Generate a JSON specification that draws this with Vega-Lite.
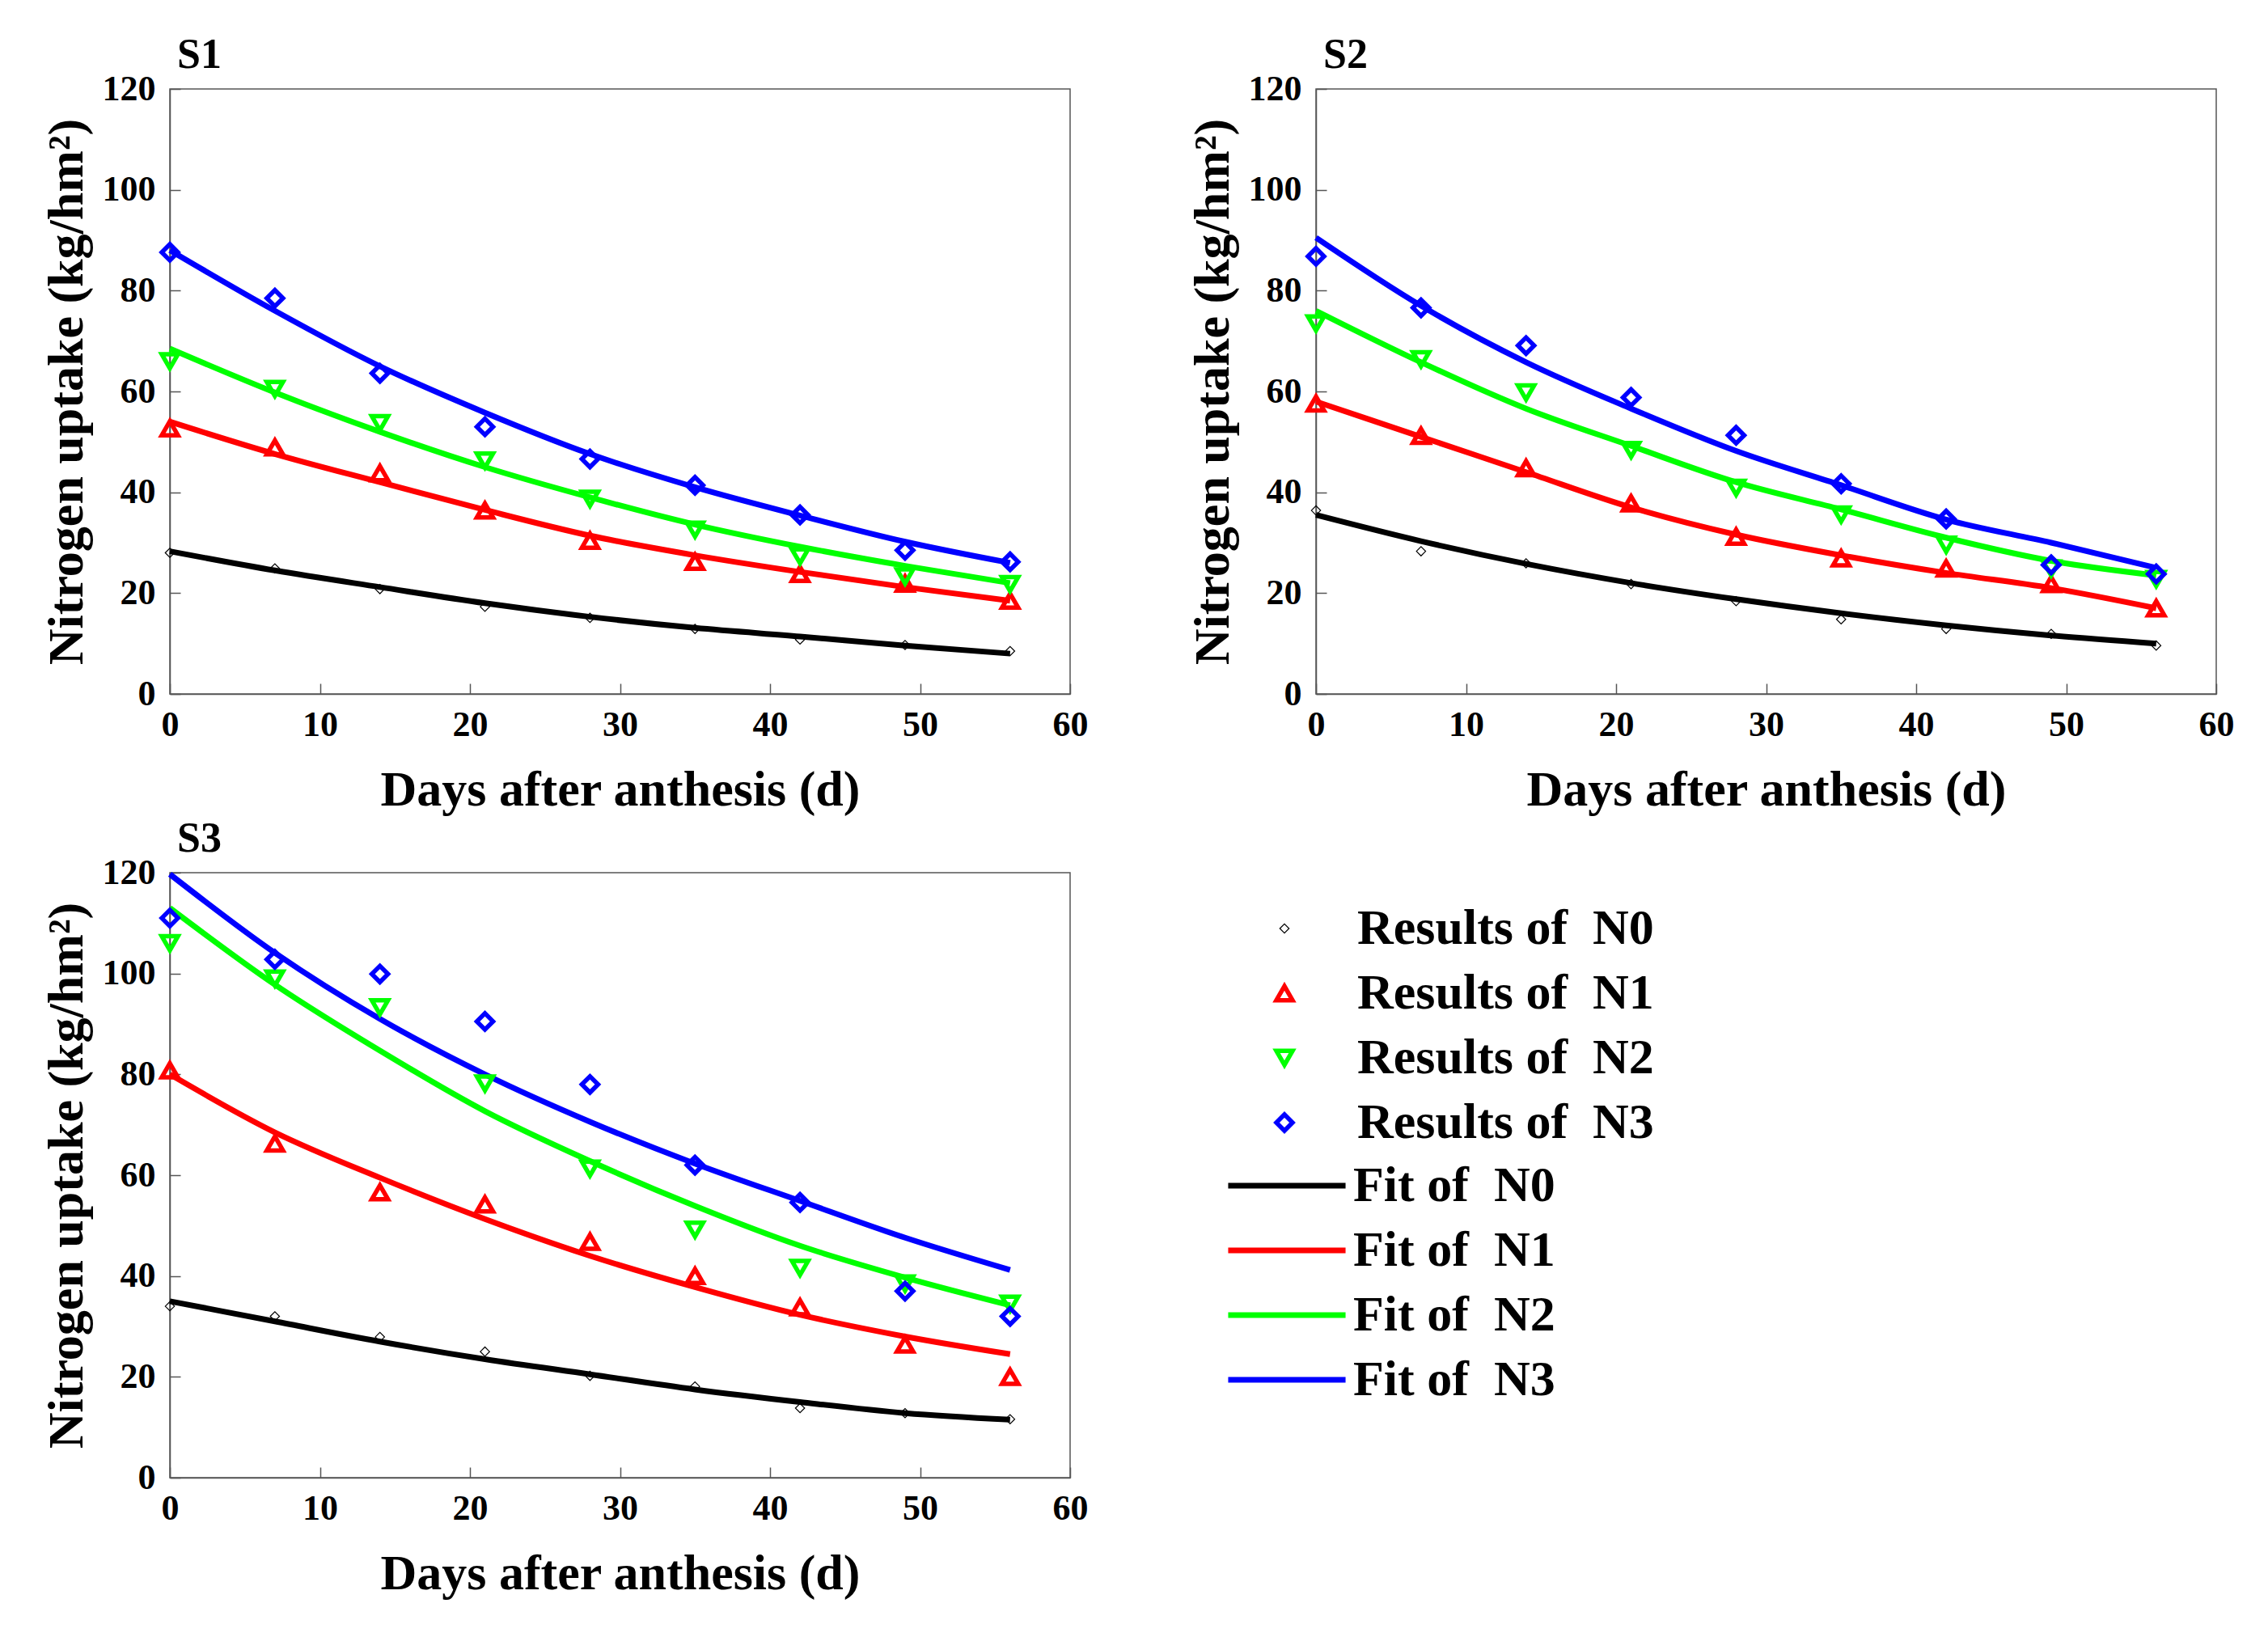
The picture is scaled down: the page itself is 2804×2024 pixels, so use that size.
{
  "$schema": "https://vega.github.io/schema/vega-lite/v6.json",
  "padding": {"left": 50, "top": 41, "right": 5, "bottom": 5},
  "background": "white",
  "data": {"values": [
    {"panel":"S1","series":"Results of N0","day":0,"value":28.0},{"panel":"S1","series":"Results of N0","day":7,"value":24.9},{"panel":"S1","series":"Results of N0","day":14,"value":20.8},{"panel":"S1","series":"Results of N0","day":21,"value":17.3},{"panel":"S1","series":"Results of N0","day":28,"value":15.1},{"panel":"S1","series":"Results of N0","day":35,"value":12.9},{"panel":"S1","series":"Results of N0","day":42,"value":10.8},{"panel":"S1","series":"Results of N0","day":49,"value":9.7},{"panel":"S1","series":"Results of N0","day":56,"value":8.5},
    {"panel":"S1","series":"Results of N1","day":0,"value":52.7},{"panel":"S1","series":"Results of N1","day":7,"value":48.9},{"panel":"S1","series":"Results of N1","day":14,"value":43.8},{"panel":"S1","series":"Results of N1","day":21,"value":36.4},{"panel":"S1","series":"Results of N1","day":28,"value":30.4},{"panel":"S1","series":"Results of N1","day":35,"value":26.2},{"panel":"S1","series":"Results of N1","day":42,"value":23.8},{"panel":"S1","series":"Results of N1","day":49,"value":21.9},{"panel":"S1","series":"Results of N1","day":56,"value":18.5},
    {"panel":"S1","series":"Results of N2","day":0,"value":66.0},{"panel":"S1","series":"Results of N2","day":7,"value":60.5},{"panel":"S1","series":"Results of N2","day":14,"value":53.7},{"panel":"S1","series":"Results of N2","day":21,"value":46.3},{"panel":"S1","series":"Results of N2","day":28,"value":38.7},{"panel":"S1","series":"Results of N2","day":35,"value":32.6},{"panel":"S1","series":"Results of N2","day":42,"value":27.3},{"panel":"S1","series":"Results of N2","day":49,"value":23.3},{"panel":"S1","series":"Results of N2","day":56,"value":21.8},
    {"panel":"S1","series":"Results of N3","day":0,"value":87.6},{"panel":"S1","series":"Results of N3","day":7,"value":78.5},{"panel":"S1","series":"Results of N3","day":14,"value":63.6},{"panel":"S1","series":"Results of N3","day":21,"value":53.0},{"panel":"S1","series":"Results of N3","day":28,"value":46.6},{"panel":"S1","series":"Results of N3","day":35,"value":41.4},{"panel":"S1","series":"Results of N3","day":42,"value":35.5},{"panel":"S1","series":"Results of N3","day":49,"value":28.5},{"panel":"S1","series":"Results of N3","day":56,"value":26.2},
    {"panel":"S1","series":"Fit of N0","day":0,"value":28.3},{"panel":"S1","series":"Fit of N0","day":7,"value":24.5},{"panel":"S1","series":"Fit of N0","day":14,"value":21.2},{"panel":"S1","series":"Fit of N0","day":21,"value":18.0},{"panel":"S1","series":"Fit of N0","day":28,"value":15.3},{"panel":"S1","series":"Fit of N0","day":35,"value":13.1},{"panel":"S1","series":"Fit of N0","day":42,"value":11.4},{"panel":"S1","series":"Fit of N0","day":49,"value":9.6},{"panel":"S1","series":"Fit of N0","day":56,"value":8.0},
    {"panel":"S1","series":"Fit of N1","day":0,"value":54.0},{"panel":"S1","series":"Fit of N1","day":7,"value":47.6},{"panel":"S1","series":"Fit of N1","day":14,"value":42.0},{"panel":"S1","series":"Fit of N1","day":21,"value":36.5},{"panel":"S1","series":"Fit of N1","day":28,"value":31.4},{"panel":"S1","series":"Fit of N1","day":35,"value":27.5},{"panel":"S1","series":"Fit of N1","day":42,"value":24.2},{"panel":"S1","series":"Fit of N1","day":49,"value":21.2},{"panel":"S1","series":"Fit of N1","day":56,"value":18.5},
    {"panel":"S1","series":"Fit of N2","day":0,"value":68.5},{"panel":"S1","series":"Fit of N2","day":7,"value":59.8},{"panel":"S1","series":"Fit of N2","day":14,"value":52.0},{"panel":"S1","series":"Fit of N2","day":21,"value":45.0},{"panel":"S1","series":"Fit of N2","day":28,"value":39.0},{"panel":"S1","series":"Fit of N2","day":35,"value":33.6},{"panel":"S1","series":"Fit of N2","day":42,"value":29.2},{"panel":"S1","series":"Fit of N2","day":49,"value":25.4},{"panel":"S1","series":"Fit of N2","day":56,"value":22.0},
    {"panel":"S1","series":"Fit of N3","day":0,"value":88.0},{"panel":"S1","series":"Fit of N3","day":7,"value":76.0},{"panel":"S1","series":"Fit of N3","day":14,"value":65.0},{"panel":"S1","series":"Fit of N3","day":21,"value":55.8},{"panel":"S1","series":"Fit of N3","day":28,"value":47.6},{"panel":"S1","series":"Fit of N3","day":35,"value":41.0},{"panel":"S1","series":"Fit of N3","day":42,"value":35.4},{"panel":"S1","series":"Fit of N3","day":49,"value":30.2},{"panel":"S1","series":"Fit of N3","day":56,"value":26.0},
    {"panel":"S2","series":"Results of N0","day":0,"value":36.4},{"panel":"S2","series":"Results of N0","day":7,"value":28.3},{"panel":"S2","series":"Results of N0","day":14,"value":25.9},{"panel":"S2","series":"Results of N0","day":21,"value":21.8},{"panel":"S2","series":"Results of N0","day":28,"value":18.4},{"panel":"S2","series":"Results of N0","day":35,"value":14.8},{"panel":"S2","series":"Results of N0","day":42,"value":12.9},{"panel":"S2","series":"Results of N0","day":49,"value":11.9},{"panel":"S2","series":"Results of N0","day":56,"value":9.6},
    {"panel":"S2","series":"Results of N1","day":0,"value":57.6},{"panel":"S2","series":"Results of N1","day":7,"value":51.2},{"panel":"S2","series":"Results of N1","day":14,"value":44.8},{"panel":"S2","series":"Results of N1","day":21,"value":37.8},{"panel":"S2","series":"Results of N1","day":28,"value":31.2},{"panel":"S2","series":"Results of N1","day":35,"value":26.9},{"panel":"S2","series":"Results of N1","day":42,"value":24.9},{"panel":"S2","series":"Results of N1","day":49,"value":21.8},{"panel":"S2","series":"Results of N1","day":56,"value":17.0},
    {"panel":"S2","series":"Results of N2","day":0,"value":73.5},{"panel":"S2","series":"Results of N2","day":7,"value":66.4},{"panel":"S2","series":"Results of N2","day":14,"value":59.8},{"panel":"S2","series":"Results of N2","day":21,"value":48.4},{"panel":"S2","series":"Results of N2","day":28,"value":40.9},{"panel":"S2","series":"Results of N2","day":35,"value":35.6},{"panel":"S2","series":"Results of N2","day":42,"value":29.6},{"panel":"S2","series":"Results of N2","day":49,"value":24.9},{"panel":"S2","series":"Results of N2","day":56,"value":22.8},
    {"panel":"S2","series":"Results of N3","day":0,"value":86.8},{"panel":"S2","series":"Results of N3","day":7,"value":76.6},{"panel":"S2","series":"Results of N3","day":14,"value":69.1},{"panel":"S2","series":"Results of N3","day":21,"value":58.8},{"panel":"S2","series":"Results of N3","day":28,"value":51.3},{"panel":"S2","series":"Results of N3","day":35,"value":41.7},{"panel":"S2","series":"Results of N3","day":42,"value":34.7},{"panel":"S2","series":"Results of N3","day":49,"value":25.6},{"panel":"S2","series":"Results of N3","day":56,"value":23.8},
    {"panel":"S2","series":"Fit of N0","day":0,"value":35.5},{"panel":"S2","series":"Fit of N0","day":7,"value":30.3},{"panel":"S2","series":"Fit of N0","day":14,"value":25.8},{"panel":"S2","series":"Fit of N0","day":21,"value":22.0},{"panel":"S2","series":"Fit of N0","day":28,"value":18.8},{"panel":"S2","series":"Fit of N0","day":35,"value":16.0},{"panel":"S2","series":"Fit of N0","day":42,"value":13.6},{"panel":"S2","series":"Fit of N0","day":49,"value":11.6},{"panel":"S2","series":"Fit of N0","day":56,"value":10.0},
    {"panel":"S2","series":"Fit of N1","day":0,"value":58.0},{"panel":"S2","series":"Fit of N1","day":7,"value":51.0},{"panel":"S2","series":"Fit of N1","day":14,"value":44.0},{"panel":"S2","series":"Fit of N1","day":21,"value":37.0},{"panel":"S2","series":"Fit of N1","day":28,"value":31.6},{"panel":"S2","series":"Fit of N1","day":35,"value":27.5},{"panel":"S2","series":"Fit of N1","day":42,"value":24.0},{"panel":"S2","series":"Fit of N1","day":49,"value":21.0},{"panel":"S2","series":"Fit of N1","day":56,"value":17.0},
    {"panel":"S2","series":"Fit of N2","day":0,"value":76.0},{"panel":"S2","series":"Fit of N2","day":7,"value":65.8},{"panel":"S2","series":"Fit of N2","day":14,"value":56.6},{"panel":"S2","series":"Fit of N2","day":21,"value":49.2},{"panel":"S2","series":"Fit of N2","day":28,"value":42.0},{"panel":"S2","series":"Fit of N2","day":35,"value":36.6},{"panel":"S2","series":"Fit of N2","day":42,"value":31.0},{"panel":"S2","series":"Fit of N2","day":49,"value":26.4},{"panel":"S2","series":"Fit of N2","day":56,"value":23.5},
    {"panel":"S2","series":"Fit of N3","day":0,"value":90.5},{"panel":"S2","series":"Fit of N3","day":7,"value":77.0},{"panel":"S2","series":"Fit of N3","day":14,"value":65.8},{"panel":"S2","series":"Fit of N3","day":21,"value":56.6},{"panel":"S2","series":"Fit of N3","day":28,"value":48.2},{"panel":"S2","series":"Fit of N3","day":35,"value":41.4},{"panel":"S2","series":"Fit of N3","day":42,"value":34.6},{"panel":"S2","series":"Fit of N3","day":49,"value":30.0},{"panel":"S2","series":"Fit of N3","day":56,"value":25.0},
    {"panel":"S3","series":"Results of N0","day":0,"value":34.0},{"panel":"S3","series":"Results of N0","day":7,"value":32.0},{"panel":"S3","series":"Results of N0","day":14,"value":27.9},{"panel":"S3","series":"Results of N0","day":21,"value":25.0},{"panel":"S3","series":"Results of N0","day":28,"value":20.2},{"panel":"S3","series":"Results of N0","day":35,"value":18.1},{"panel":"S3","series":"Results of N0","day":42,"value":13.8},{"panel":"S3","series":"Results of N0","day":49,"value":12.8},{"panel":"S3","series":"Results of N0","day":56,"value":11.6},
    {"panel":"S3","series":"Results of N1","day":0,"value":80.8},{"panel":"S3","series":"Results of N1","day":7,"value":66.3},{"panel":"S3","series":"Results of N1","day":14,"value":56.6},{"panel":"S3","series":"Results of N1","day":21,"value":54.2},{"panel":"S3","series":"Results of N1","day":28,"value":46.8},{"panel":"S3","series":"Results of N1","day":35,"value":40.0},{"panel":"S3","series":"Results of N1","day":42,"value":33.8},{"panel":"S3","series":"Results of N1","day":49,"value":26.4},{"panel":"S3","series":"Results of N1","day":56,"value":20.0},
    {"panel":"S3","series":"Results of N2","day":0,"value":106.0},{"panel":"S3","series":"Results of N2","day":7,"value":99.0},{"panel":"S3","series":"Results of N2","day":14,"value":93.3},{"panel":"S3","series":"Results of N2","day":21,"value":78.2},{"panel":"S3","series":"Results of N2","day":28,"value":61.3},{"panel":"S3","series":"Results of N2","day":35,"value":49.2},{"panel":"S3","series":"Results of N2","day":42,"value":41.6},{"panel":"S3","series":"Results of N2","day":49,"value":38.5},{"panel":"S3","series":"Results of N2","day":56,"value":34.5},
    {"panel":"S3","series":"Results of N3","day":0,"value":111.0},{"panel":"S3","series":"Results of N3","day":7,"value":102.8},{"panel":"S3","series":"Results of N3","day":14,"value":99.9},{"panel":"S3","series":"Results of N3","day":21,"value":90.5},{"panel":"S3","series":"Results of N3","day":28,"value":78.0},{"panel":"S3","series":"Results of N3","day":35,"value":62.0},{"panel":"S3","series":"Results of N3","day":42,"value":54.6},{"panel":"S3","series":"Results of N3","day":49,"value":37.0},{"panel":"S3","series":"Results of N3","day":56,"value":32.0},
    {"panel":"S3","series":"Fit of N0","day":0,"value":35.0},{"panel":"S3","series":"Fit of N0","day":7,"value":31.0},{"panel":"S3","series":"Fit of N0","day":14,"value":27.0},{"panel":"S3","series":"Fit of N0","day":21,"value":23.5},{"panel":"S3","series":"Fit of N0","day":28,"value":20.5},{"panel":"S3","series":"Fit of N0","day":35,"value":17.5},{"panel":"S3","series":"Fit of N0","day":42,"value":15.0},{"panel":"S3","series":"Fit of N0","day":49,"value":12.8},{"panel":"S3","series":"Fit of N0","day":56,"value":11.5},
    {"panel":"S3","series":"Fit of N1","day":0,"value":80.0},{"panel":"S3","series":"Fit of N1","day":7,"value":68.5},{"panel":"S3","series":"Fit of N1","day":14,"value":59.5},{"panel":"S3","series":"Fit of N1","day":21,"value":51.3},{"panel":"S3","series":"Fit of N1","day":28,"value":44.0},{"panel":"S3","series":"Fit of N1","day":35,"value":37.8},{"panel":"S3","series":"Fit of N1","day":42,"value":32.3},{"panel":"S3","series":"Fit of N1","day":49,"value":28.0},{"panel":"S3","series":"Fit of N1","day":56,"value":24.5},
    {"panel":"S3","series":"Fit of N2","day":0,"value":113.0},{"panel":"S3","series":"Fit of N2","day":7,"value":97.8},{"panel":"S3","series":"Fit of N2","day":14,"value":84.7},{"panel":"S3","series":"Fit of N2","day":21,"value":72.7},{"panel":"S3","series":"Fit of N2","day":28,"value":62.8},{"panel":"S3","series":"Fit of N2","day":35,"value":53.9},{"panel":"S3","series":"Fit of N2","day":42,"value":46.0},{"panel":"S3","series":"Fit of N2","day":49,"value":39.7},{"panel":"S3","series":"Fit of N2","day":56,"value":34.2},
    {"panel":"S3","series":"Fit of N3","day":0,"value":119.7},{"panel":"S3","series":"Fit of N3","day":7,"value":104.1},{"panel":"S3","series":"Fit of N3","day":14,"value":91.0},{"panel":"S3","series":"Fit of N3","day":21,"value":80.0},{"panel":"S3","series":"Fit of N3","day":28,"value":70.6},{"panel":"S3","series":"Fit of N3","day":35,"value":62.3},{"panel":"S3","series":"Fit of N3","day":42,"value":54.9},{"panel":"S3","series":"Fit of N3","day":49,"value":47.6},{"panel":"S3","series":"Fit of N3","day":56,"value":41.2}
  ]},
  "vconcat": [
    {
      "hconcat": [
        {
          "title": "S1", "width": 1113, "height": 748,
          "transform": [{"filter": "datum.panel === 'S1'"}],
          "encoding": {
            "x": {"field": "day", "type": "quantitative", "scale": {"domain": [0, 60], "nice": false}, "axis": {"values": [0,10,20,30,40,50,60], "title": "Days after anthesis (d)"}},
            "y": {"field": "value", "type": "quantitative", "scale": {"domain": [0, 120], "nice": false}, "axis": {"values": [0,20,40,60,80,100,120], "title": "Nitrogen uptake (kg/hm²)"}}
          },
          "layer": [
            {"transform": [{"filter": "indexof(datum.series, 'Fit') === 0"}],
             "mark": {"type": "line", "strokeWidth": 7, "interpolate": "monotone"},
             "encoding": {"stroke": {"field": "series", "type": "nominal", "scale": {"domain": ["Fit of N0","Fit of N1","Fit of N2","Fit of N3"], "range": ["#000000","#ff0000","#00ff00","#0000ff"]},
               "legend": {"title": null, "orient": "none", "legendX": 1350, "legendY": 1325, "symbolType": "M-6,0H6", "symbolSize": 585, "symbolStrokeWidth": 7, "labelOffset": 51, "rowPadding": 18, "labelExpr": "replace(datum.label, ' N', '\u00a0 N')"}}}},
            {"transform": [{"filter": "indexof(datum.series, 'Results') === 0"}],
             "mark": {"type": "point", "filled": false, "opacity": 1},
             "encoding": {
               "color": {"field": "series", "type": "nominal", "scale": {"domain": ["Results of N0","Results of N1","Results of N2","Results of N3"], "range": ["#000000","#ff0000","#00ff00","#0000ff"]},
                 "legend": {"title": null, "orient": "none", "legendX": 1347, "legendY": 1007, "labelOffset": 59, "rowPadding": 18, "labelExpr": "replace(datum.label, ' N', '\u00a0 N')"}},
               "shape": {"field": "series", "type": "nominal", "scale": {"domain": ["Results of N0","Results of N1","Results of N2","Results of N3"], "range": ["diamond","triangle-up","triangle-down","diamond"]}},
               "size": {"field": "series", "type": "nominal", "scale": {"type": "ordinal", "domain": ["Results of N0","Results of N1","Results of N2","Results of N3"], "range": [130, 400, 400, 400]}},
               "strokeWidth": {"field": "series", "type": "nominal", "scale": {"type": "ordinal", "domain": ["Results of N0","Results of N1","Results of N2","Results of N3"], "range": [1.2, 5.5, 5.5, 5.5]}}
             }}
          ]
        },
        {
          "title": "S2", "width": 1113, "height": 748,
          "transform": [{"filter": "datum.panel === 'S2'"}],
          "encoding": {
            "x": {"field": "day", "type": "quantitative", "scale": {"domain": [0, 60], "nice": false}, "axis": {"values": [0,10,20,30,40,50,60], "title": "Days after anthesis (d)"}},
            "y": {"field": "value", "type": "quantitative", "scale": {"domain": [0, 120], "nice": false}, "axis": {"values": [0,20,40,60,80,100,120], "title": "Nitrogen uptake (kg/hm²)"}}
          },
          "layer": [
            {"transform": [{"filter": "indexof(datum.series, 'Fit') === 0"}],
             "mark": {"type": "line", "strokeWidth": 7, "interpolate": "monotone"},
             "encoding": {"stroke": {"field": "series", "type": "nominal", "scale": {"domain": ["Fit of N0","Fit of N1","Fit of N2","Fit of N3"], "range": ["#000000","#ff0000","#00ff00","#0000ff"]}}}},
            {"transform": [{"filter": "indexof(datum.series, 'Results') === 0"}],
             "mark": {"type": "point", "filled": false, "opacity": 1},
             "encoding": {
               "color": {"field": "series", "type": "nominal", "scale": {"domain": ["Results of N0","Results of N1","Results of N2","Results of N3"], "range": ["#000000","#ff0000","#00ff00","#0000ff"]}},
               "shape": {"field": "series", "type": "nominal", "scale": {"domain": ["Results of N0","Results of N1","Results of N2","Results of N3"], "range": ["diamond","triangle-up","triangle-down","diamond"]}},
               "size": {"field": "series", "type": "nominal", "scale": {"type": "ordinal", "domain": ["Results of N0","Results of N1","Results of N2","Results of N3"], "range": [130, 400, 400, 400]}},
               "strokeWidth": {"field": "series", "type": "nominal", "scale": {"type": "ordinal", "domain": ["Results of N0","Results of N1","Results of N2","Results of N3"], "range": [1.2, 5.5, 5.5, 5.5]}}
             }}
          ]
        }
      ],
      "spacing": 121
    },
    {
      "title": "S3", "width": 1113, "height": 748,
      "transform": [{"filter": "datum.panel === 'S3'"}],
      "encoding": {
        "x": {"field": "day", "type": "quantitative", "scale": {"domain": [0, 60], "nice": false}, "axis": {"values": [0,10,20,30,40,50,60], "title": "Days after anthesis (d)"}},
        "y": {"field": "value", "type": "quantitative", "scale": {"domain": [0, 120], "nice": false}, "axis": {"values": [0,20,40,60,80,100,120], "title": "Nitrogen uptake (kg/hm²)"}}
      },
      "layer": [
        {"transform": [{"filter": "indexof(datum.series, 'Fit') === 0"}],
         "mark": {"type": "line", "strokeWidth": 7, "interpolate": "monotone"},
         "encoding": {"stroke": {"field": "series", "type": "nominal", "scale": {"domain": ["Fit of N0","Fit of N1","Fit of N2","Fit of N3"], "range": ["#000000","#ff0000","#00ff00","#0000ff"]}}}},
        {"transform": [{"filter": "indexof(datum.series, 'Results') === 0"}],
         "mark": {"type": "point", "filled": false, "opacity": 1},
         "encoding": {
           "color": {"field": "series", "type": "nominal", "scale": {"domain": ["Results of N0","Results of N1","Results of N2","Results of N3"], "range": ["#000000","#ff0000","#00ff00","#0000ff"]}},
           "shape": {"field": "series", "type": "nominal", "scale": {"domain": ["Results of N0","Results of N1","Results of N2","Results of N3"], "range": ["diamond","triangle-up","triangle-down","diamond"]}},
           "size": {"field": "series", "type": "nominal", "scale": {"type": "ordinal", "domain": ["Results of N0","Results of N1","Results of N2","Results of N3"], "range": [130, 400, 400, 400]}},
           "strokeWidth": {"field": "series", "type": "nominal", "scale": {"type": "ordinal", "domain": ["Results of N0","Results of N1","Results of N2","Results of N3"], "range": [1.2, 5.5, 5.5, 5.5]}}
         }}
      ]
    }
  ],
  "spacing": 2,
  "resolve": {"scale": {"color": "shared", "shape": "shared", "stroke": "shared", "size": "shared", "strokeWidth": "shared"}},
  "config": {
    "font": "Liberation Serif",
    "view": {"stroke": "#555555", "strokeWidth": 1.5},
    "title": {"anchor": "start", "frame": "group", "font": "Liberation Serif", "fontWeight": "bold", "fontSize": 52, "offset": -7, "dx": 9, "color": "#000000"},
    "axis": {"grid": false, "labelFont": "Liberation Serif", "labelFontWeight": "bold", "labelFontSize": 44, "labelColor": "#000000", "titleFont": "Liberation Serif", "titleFontWeight": "bold", "titleFontSize": 62, "titleColor": "#000000", "tickSize": -13, "tickColor": "#555555", "tickWidth": 1.5, "domainColor": "#555555", "domainWidth": 1.5, "labelFlush": false, "labelOverlap": false},
    "axisX": {"labelPadding": 29, "titlePadding": 28},
    "axisY": {"labelPadding": 31, "titlePadding": 12},
    "legend": {"padding": 0, "labelFont": "Liberation Serif", "labelFontWeight": "bold", "labelFontSize": 62, "labelColor": "#000000", "labelLimit": 1000}
  }
}
